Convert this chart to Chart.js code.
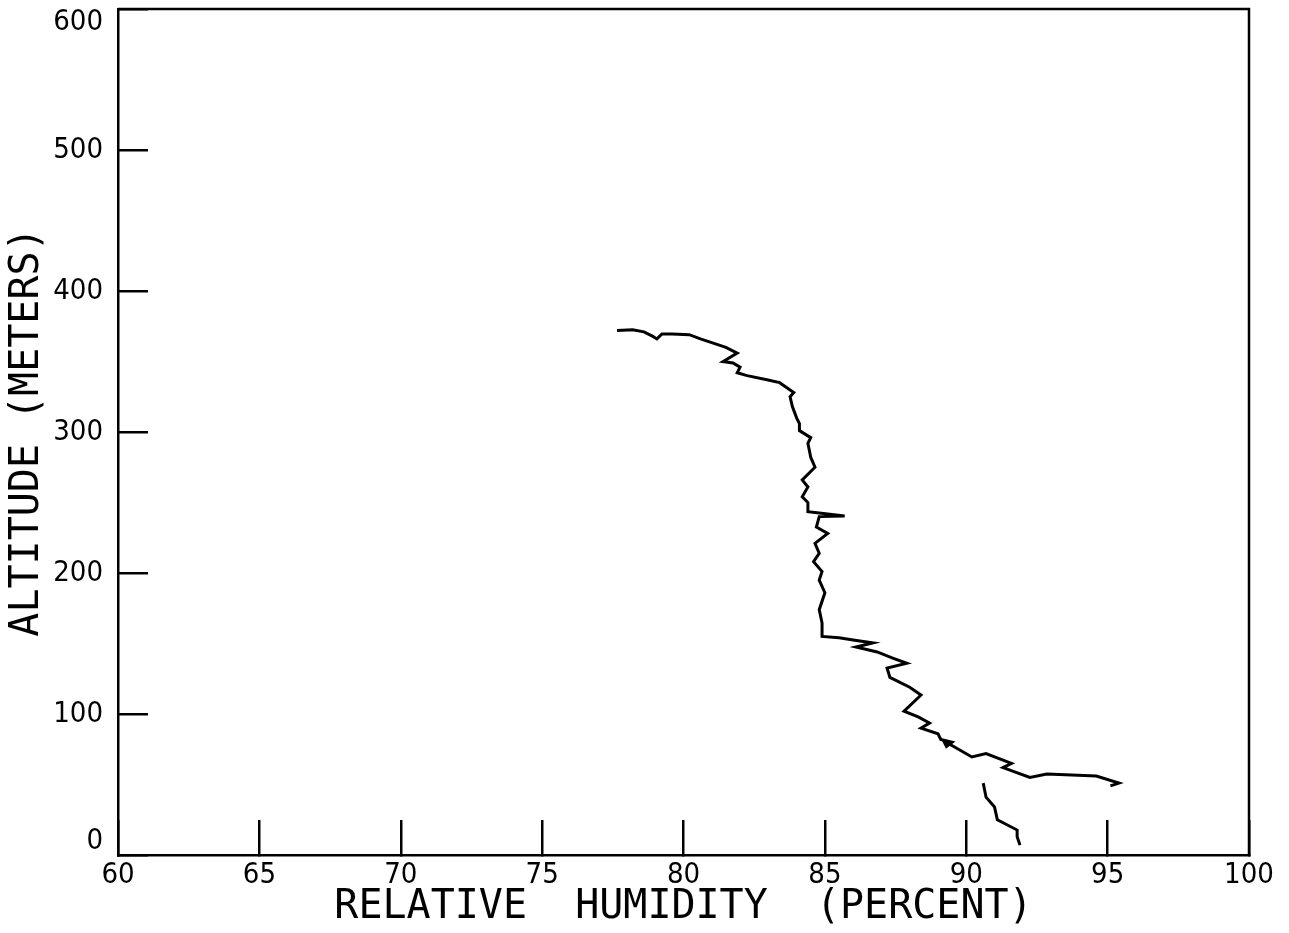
<!DOCTYPE html>
<html>
<head>
<meta charset="utf-8">
<script src="https://cdn.jsdelivr.net/npm/chart.js@4"></script>
<style>
  body { margin: 0; background: #fff; }
  canvas { display: block; }
</style>
</head>
<body>
<canvas id="graph" width="1289" height="933"></canvas>
<script>
"use strict";
// humidity profile -- upper (main) trace, top to bottom
var mainRH = [77.65, 78.2, 78.6, 78.9, 79.06, 79.24, 79.6, 80.2, 80.6, 81.05, 81.5, 81.9, 81.4, 81.75, 82.0, 81.9, 82.25, 82.95, 83.4, 83.9,
  83.77, 83.85, 84.0, 84.1, 84.1, 84.5, 84.4, 84.5, 84.65, 84.2, 84.4, 84.2, 84.4, 84.4, 84.8, 85.7, 84.8, 84.7, 85.1, 84.65,
  84.8, 84.6, 84.9, 84.8, 85.0, 84.8, 84.9, 84.9, 85.5, 86.0, 86.7, 86.1, 86.85, 87.4, 87.9, 87.2, 87.3, 88.0, 88.4, 87.8,
  88.3, 88.7, 88.4, 89.0, 89.1, 89.5, 89.3, 89.2, 90.2, 90.7, 91.6, 91.3, 92.25, 92.85, 94.6, 95.4, 95.1];
var mainAlt = [372, 372.5, 371, 368, 366, 369.5, 369.5, 369, 366, 363, 360, 356, 350, 349, 346, 342, 340, 337, 335, 328,
  325, 318, 310, 306, 301, 296, 292, 282, 275, 266, 261, 254, 250, 243.5, 242.5, 240.4, 240, 232.6, 228, 221,
  214, 208, 201, 195, 186, 174, 164.5, 155, 154, 152.5, 150.4, 147.5, 144, 139.7, 136, 132.6, 126, 119, 113.5, 102,
  98, 93.6, 90, 86, 82, 80, 77, 81, 69.5, 72, 65, 62, 55, 57.5, 56, 51, 49];
// lower short trace near the ground
var lowRH = [90.6, 90.7, 91.0, 91.1, 91.8, 91.8, 91.9];
var lowAlt = [51, 41, 34, 25, 17.7, 13, 7];

var xTitle = "RELATIVE  HUMIDITY  (PERCENT)";
var yTitle = "ALTITUDE (METERS)";

function toPts(xs, ys) {
  var out = [];
  for (let i = 0; i < xs.length; i++) out.push({ x: xs[i], y: ys[i] });
  return out;
}

// weight slot carries the font-stretch keyword so the canvas picks DejaVu Sans Condensed
var xTickFont = { family: "'DejaVu Sans', sans-serif", style: "normal", weight: "condensed", size: 29 };
var yTickFont = { family: "'DejaVu Sans', sans-serif", style: "normal", weight: "condensed", size: 29, lineHeight: 0.9 };
var titleFont = { family: "'DejaVu Sans Mono', monospace", size: 40 };

function fixBox(w, h) {
  return function (s) {
    if (w) s.width = w;
    if (h) s.height = h;
    s.paddingTop = 0; s.paddingBottom = 0; s.paddingLeft = 0; s.paddingRight = 0;
  };
}

// top and right frame lines
var frame = {
  id: "frame",
  afterDraw(chart) {
    var a = chart.chartArea, c = chart.ctx;
    c.save();
    c.strokeStyle = "#000";
    c.lineWidth = 2.5;
    c.beginPath();
    c.moveTo(a.left, a.top);
    c.lineTo(a.right, a.top);
    c.lineTo(a.right, a.bottom);
    c.stroke();
    c.restore();
  }
};

new Chart(document.getElementById("graph"), {
  type: "scatter",
  data: {
    datasets: [
      { data: toPts(mainRH, mainAlt), showLine: true, borderColor: "#000", borderWidth: 3, pointRadius: 0, tension: 0 },
      { data: toPts(lowRH, lowAlt), showLine: true, borderColor: "#000", borderWidth: 3, pointRadius: 0, tension: 0 }
    ]
  },
  plugins: [frame],
  options: {
    responsive: false,
    animation: false,
    devicePixelRatio: 1,
    layout: { padding: { top: 9, right: 40, left: 0, bottom: 0 } },
    plugins: { legend: { display: false }, tooltip: { enabled: false } },
    scales: {
      x: {
        type: "linear", min: 60, max: 100,
        afterFit: fixBox(0, 78),
        ticks: { stepSize: 5, color: "#000", font: xTickFont, padding: 38 },
        grid: { drawOnChartArea: false, tickLength: -35, color: "#000", lineWidth: 2.5 },
        border: { color: "#000", width: 2.5 },
        title: { display: true, text: xTitle, color: "#000", font: titleFont, padding: { top: 0, bottom: 1 } }
      },
      y: {
        type: "linear", min: 0, max: 600,
        afterFit: fixBox(118, 0),
        ticks: {
          stepSize: 100, color: "#000", font: yTickFont, padding: 45,
          // end labels sit inside the frame, as on the original plot
          callback: function (v) {
            if (v === 600) return ["", "600"];
            if (v === 0) return ["0", ""];
            return String(v);
          }
        },
        grid: { drawOnChartArea: false, tickLength: -30, color: "#000", lineWidth: 2.5 },
        border: { color: "#000", width: 2.5 },
        title: { display: true, text: yTitle, color: "#000", font: titleFont, padding: { top: 4, bottom: 0 } }
      }
    }
  }
});
</script>
</body>
</html>
